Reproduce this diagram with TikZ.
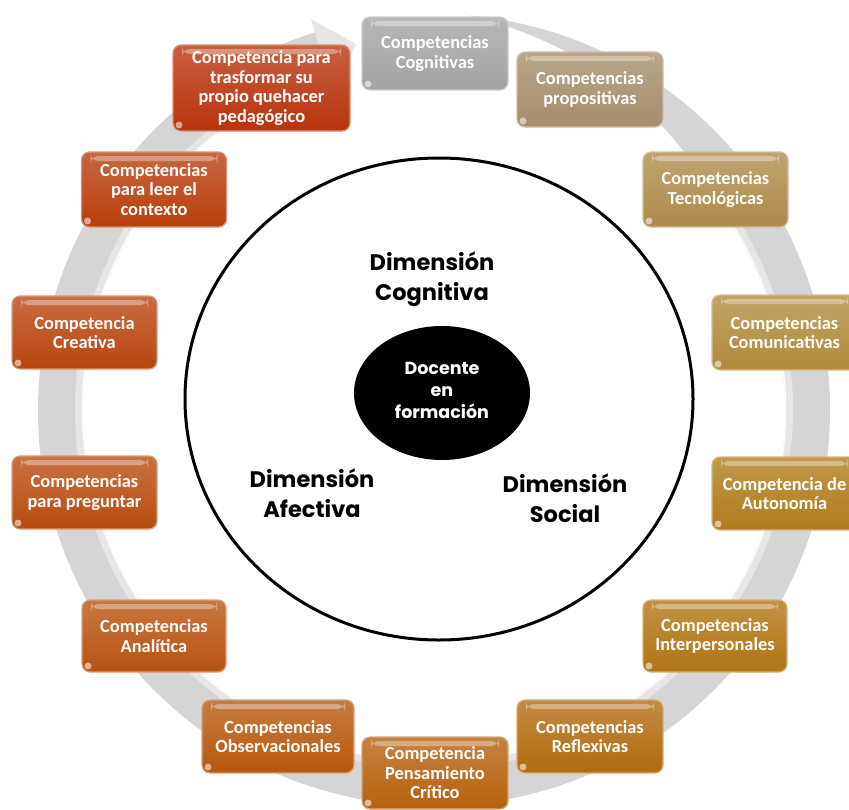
\documentclass[tikz,border=0pt]{standalone}
\usepackage{fontspec}
\setmainfont{Carlito}
\newfontfamily\dimfont{Poppins}
\usetikzlibrary{calc,shapes.geometric}

\definecolor{ringgray}{HTML}{D5D5D5}
\definecolor{ringlight}{HTML}{E6E6E6}
\definecolor{cCog}{HTML}{A3A3A3}
\definecolor{cProp}{HTML}{A58D69}
\definecolor{cTec}{HTML}{AE8A4A}
\definecolor{cCom}{HTML}{B08A3A}
\definecolor{cAut}{HTML}{AE7C1A}
\definecolor{cInt}{HTML}{B07412}
\definecolor{cRef}{HTML}{B26A0E}
\definecolor{cPen}{HTML}{B6600C}
\definecolor{cObs}{HTML}{B6570C}
\definecolor{cAna}{HTML}{B8520D}
\definecolor{cPre}{HTML}{B84B0D}
\definecolor{cCre}{HTML}{B8450D}
\definecolor{cLee}{HTML}{B83D0B}
\definecolor{cTra}{HTML}{B8330B}

\tikzset{
  cbox/.style={rounded corners=8pt, minimum width=145, minimum height=73,
    align=center, inner sep=2pt, text=white,
    font=\fontsize{18.4}{19.5}\selectfont\bfseries,
    top color=#1!78!white, bottom color=#1, draw=#1!55!white, line width=1.2,
    path picture={
      \fill[white, opacity=0.35]
        ($(path picture bounding box.north west)+(9,4)$) rectangle
        ($(path picture bounding box.north east)+(-9,9)$);
      \fill[white, opacity=0.55]
        ($(path picture bounding box.south west)+(6,-6)$) circle[radius=3.5];
    }},
  dimlabel/.style={align=center, font=\dimfont\fontsize{22.5}{30}\selectfont\bfseries},
}

\begin{document}
\begin{tikzpicture}[x=1pt,y=-1pt]
\useasboundingbox (0,0) rectangle (849,809);
\clip (0,0) rectangle (849,809);

% background circular arrow, tapered tail at the top right, head at the top left
\coordinate (C) at (434,410);
\fill[ringgray]
  ($(C)+(-85:396)$) arc[start angle=-85, end angle=253, radius=396]
  -- ($(C)+(253:351)$) arc[start angle=253, end angle=-37, radius=351]
  -- plot[domain=-37:-85, samples=30]
     ({434+(351+45*(-37-\x)/48)*cos(\x)}, {410+(351+45*(-37-\x)/48)*sin(\x)})
  -- cycle;
\fill[ringlight]
  ($(C)+(252.5:410)$) -- ($(C)+(258:374)$) -- ($(C)+(252.5:336)$) -- cycle;
\draw[ringlight, line width=7] ($(C)+(-40:355.5)$) arc[start angle=-40, end angle=250, radius=355.5];
\draw[white, line width=1.2] ($(C)+(-40:351.6)$) arc[start angle=-40, end angle=250, radius=351.6];

% dimensions circle and centre
\node[draw, ellipse, line width=3, fill=white, minimum width=508, minimum height=482] (outer) at (439,399) {};
\node[ellipse, fill=black, minimum width=176, minimum height=134, inner sep=0pt] (docente) at (442,393) {};
\node[align=center, text=white, font=\dimfont\fontsize{17.5}{22}\selectfont\bfseries] (doctext) at (442,390) {Docente\\en\\formación};

\node[dimlabel] (dcog) at (432,279) {Dimensión\\Cognitiva};
\node[dimlabel] (dafe) at (312,493) {Dimensión\\Afectiva};
\node[dimlabel] (dsoc) at (565,498) {Dimensión\\Social};

% competence boxes around the ring
\node[cbox=cCog, minimum width=146] (cog) at (435,53.5) {Competencias\\Cognitivas};
\node[cbox=cProp, minimum width=146, minimum height=75] (prop) at (590,89.5) {Competencias\\propositivas};
\node[cbox=cTec, minimum height=75] (tec) at (715.5,189.5) {Competencias\\Tecnológicas};
\node[cbox=cCom, minimum height=75] (com) at (784.5,332.5) {Competencias\\Comunicativas};
\node[cbox=cAut] (aut) at (784.5,493.5) {Competencia de\\Autonomía};
\node[cbox=cInt, minimum width=144, minimum height=72] (inter) at (715,636) {Competencias\\Interpersonales};
\node[cbox=cRef, minimum width=146] (refl) at (590,736.5) {Competencias\\Reflexivas};
\node[cbox=cPen, minimum width=146, minimum height=72] (pens) at (435,773) {Competencia\\Pensamiento\\Crítico};
\node[cbox=cObs, minimum width=152] (obs) at (278,736.5) {Competencias\\Observacionales};
\node[cbox=cAna, minimum width=144, minimum height=72] (anal) at (154,636) {Competencias\\Analítica};
\node[cbox=cPre] (preg) at (84.5,492.5) {Competencias\\para preguntar};
\node[cbox=cCre] (crea) at (84.5,332.5) {Competencia\\Creativa};
\node[cbox=cLee, minimum height=75] (leer) at (154,189.5) {Competencias\\para leer el\\contexto};
\node[cbox=cTra, minimum width=177, minimum height=86] (tras) at (261.5,88) {Competencia para\\trasformar su\\propio quehacer\\pedagógico};
\end{tikzpicture}
\end{document}
